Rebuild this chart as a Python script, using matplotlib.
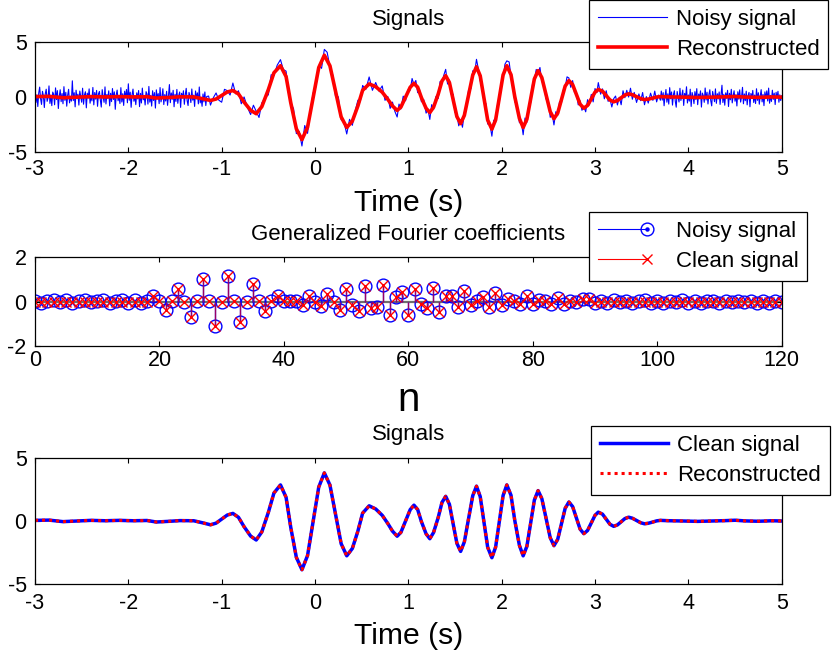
import numpy as np
import matplotlib
matplotlib.use("Agg")
import matplotlib.pyplot as plt
from matplotlib.lines import Line2D
from matplotlib.legend_handler import HandlerBase

plt.rcParams['font.family'] = ['Liberation Sans', 'DejaVu Sans']
plt.rcParams['axes.unicode_minus'] = False

# ---------------- data ----------------
# clean / reconstructed signal (time in s, amplitude)
clean_t = [-3.00, -2.85, -2.70, -2.55, -2.40, -2.25, -2.10, -1.95, -1.80, -1.70, -1.55, -1.45, -1.30, -1.20,
           -1.12, -1.06, -1.00, -0.94, -0.88, -0.82, -0.76, -0.69, -0.63, -0.57, -0.50, -0.44, -0.37, -0.31,
           -0.26, -0.20, -0.14, -0.08, -0.02, 0.04, 0.10, 0.16, 0.22, 0.28, 0.34, 0.40, 0.46, 0.51, 0.58,
           0.65, 0.72, 0.78, 0.83, 0.88, 0.92, 0.97, 1.02, 1.06, 1.10, 1.14, 1.19, 1.23, 1.27, 1.32, 1.36,
           1.40, 1.44, 1.48, 1.52, 1.56, 1.60, 1.645, 1.69, 1.73, 1.77, 1.81, 1.85, 1.895, 1.935, 1.975,
           2.015, 2.055, 2.10, 2.14, 2.19, 2.23, 2.27, 2.31, 2.35, 2.39, 2.43, 2.475, 2.52, 2.56, 2.60, 2.64,
           2.68, 2.72, 2.76, 2.80, 2.84, 2.88, 2.92, 2.96, 3.00, 3.035, 3.08, 3.12, 3.16, 3.20, 3.24, 3.28,
           3.32, 3.36, 3.40, 3.445, 3.49, 3.53, 3.57, 3.62, 3.66, 3.70, 3.80, 3.95, 4.10, 4.25, 4.40, 4.50,
           4.60, 4.75, 4.90, 5.00]
clean_v = [0.05, 0.07, -0.05, 0.00, 0.05, 0.02, 0.05, 0.02, 0.04, -0.08, -0.02, 0.03, 0.02, -0.15,
           -0.30, -0.17, 0.15, 0.47, 0.60, 0.29, -0.45, -1.19, -1.50, -0.86, 0.68, 2.21, 2.85, 1.87,
           -0.50, -2.87, -3.85, -2.73, -0.03, 2.68, 3.80, 2.84, 0.53, -1.79, -2.75, -2.17, -0.78, 0.62, 1.20,
           0.95, 0.45, -0.20, -0.80, -1.20, -0.90, 0.00, 0.90, 1.25, 0.90, -0.05, -1.01, -1.40, -0.91, 0.28, 1.46,
           1.95, 1.32, -0.23, -1.76, -2.40, -1.65, 0.18, 2.00, 2.75, 1.93, -0.08, -2.08, -2.90, -2.06, -0.03,
           2.01, 2.85, 2.03, 0.05, -1.93, -2.75, -2.00, -0.18, 1.65, 2.40, 1.77, 0.23, -1.32, -1.95, -1.45, -0.23,
           1.00, 1.50, 1.14, 0.25, -0.64, -1.00, -0.75, -0.15, 0.45, 0.70, 0.54, 0.14, -0.26, -0.42, -0.31, -0.06,
           0.19, 0.30, 0.22, 0.04, -0.14, -0.22, -0.18, -0.08, 0.01, 0.05, 0.02, 0.00, -0.03, 0.00, 0.03, 0.06,
           0.01, -0.02, 0.02, 0.00]
recon_v = list(clean_v)

# noisy signal: quiet lead-in (-3.00 .. -1.16 s, step 0.01)
noisy_lead = [0.62, -0.48, 0.21, -0.85, 0.37, 0.91, -0.15, -0.66, 0.53, 0.12,
              -0.94, 0.30, 0.72, -0.38, -0.05, 1.02, -0.57, 0.18, -0.77, 0.46,
              0.25, -0.69, 0.84, -0.22, 0.59, -1.03, 0.08, 0.67, -0.41, 0.33,
              -0.60, 0.95, -0.29, 0.44, -0.82, 0.17, 0.71, -0.52, 0.06, -0.36,
              1.48, -0.31, 0.40, -0.88, 0.63, -0.13, 0.27, -0.72, 0.55, 0.02,
              -0.46, 0.81, -0.64, 0.20, 0.49, -0.97, 0.36, -0.09, 0.75, -0.55,
              0.14, -0.34, 0.88, -0.70, 0.42, -0.18, 0.61, -0.83, 0.29, 0.52,
              -0.26, -0.90, 0.68, 0.03, -0.47, 0.93, -0.62, 0.24, -0.11, 0.57,
              -0.79, 0.35, -0.40, 0.78, -0.21, 0.48, -1.10, 0.19, 0.64, -0.33,
              0.10, -0.58, 0.86, -0.44, 0.31, -0.75, 0.54, -0.07, 0.69, -0.51,
              1.21, -0.28, 0.45, -0.92, 0.22, 0.73, -0.37, 0.13, -0.68, 0.39,
              -0.16, 0.60, -0.86, 0.34, -0.53, 0.82, -0.24, 0.07, -0.71, 0.50,
              0.28, -0.63, 0.97, -0.45, 0.16, -0.81, 0.58, -0.30, 0.41, -0.99,
              0.66, -0.12, 0.32, -0.59, 0.87, -0.43, 0.04, 0.76, -0.67, 0.23,
              -0.35, 0.53, -0.74, 0.11, 1.14, -0.50, 0.38, -0.20, 0.62, -0.87,
              0.26, -0.39, 0.70, -0.56, 0.15, 0.47, -0.93, 0.35, -0.08, 0.58,
              -0.65, 0.21, 0.80, -0.32, -0.76, 0.43, 0.09, -0.49, 0.74, -0.27,
              0.18, -0.84, 0.56, -0.14, 0.39, -0.61, 0.92, -0.52, -0.07, -0.83,
              0.29, -0.43, 0.47, -0.76, 0.06]
# noisy signal: active part
noisy_mid_t = [-1.14, -1.12, -1.09, -1.06, -1.03, -1.00, -0.97, -0.94, -0.91, -0.88, -0.85, -0.82, -0.79, -0.76,
               -0.725, -0.69, -0.66, -0.63, -0.60, -0.57, -0.535, -0.50, -0.47, -0.44, -0.405, -0.37, -0.34,
               -0.31, -0.285, -0.26, -0.23, -0.20, -0.17, -0.14, -0.11, -0.08, -0.05, -0.02, 0.01, 0.04, 0.07,
               0.10, 0.13, 0.16, 0.19, 0.22, 0.25, 0.28, 0.31, 0.34, 0.37, 0.40, 0.43, 0.46, 0.485, 0.51, 0.545,
               0.58, 0.615, 0.65, 0.685, 0.72, 0.75, 0.78, 0.805, 0.83, 0.855, 0.88, 0.90, 0.92, 0.945, 0.97,
               0.995, 1.02, 1.04, 1.06, 1.08, 1.10, 1.12, 1.14, 1.165, 1.19, 1.21, 1.23, 1.25, 1.27, 1.295, 1.32,
               1.34, 1.36, 1.38, 1.40, 1.42, 1.44, 1.46, 1.48, 1.50, 1.52, 1.54, 1.56, 1.58, 1.60, 1.62, 1.645,
               1.67, 1.69, 1.71, 1.73, 1.75, 1.77, 1.79, 1.81, 1.83, 1.85, 1.87, 1.895, 1.915, 1.935, 1.955,
               1.975, 1.995, 2.015, 2.035, 2.055, 2.08, 2.10, 2.12, 2.14, 2.165, 2.19, 2.21, 2.23, 2.25, 2.27,
               2.29, 2.31, 2.33, 2.35, 2.37, 2.39, 2.41, 2.43, 2.45, 2.475, 2.50, 2.52, 2.54, 2.56, 2.58, 2.60,
               2.62, 2.64, 2.66, 2.68, 2.70, 2.72, 2.74, 2.76, 2.78, 2.80, 2.82, 2.84, 2.86, 2.88, 2.90, 2.92,
               2.94, 2.96, 2.98, 3.00, 3.02, 3.035, 3.06, 3.08, 3.10, 3.12, 3.14, 3.16, 3.18, 3.20, 3.22, 3.24,
               3.26, 3.28, 3.30, 3.32, 3.34, 3.36, 3.38, 3.40, 3.42, 3.445, 3.47, 3.49, 3.51, 3.53, 3.55, 3.57,
               3.595, 3.62, 3.64, 3.66, 3.68, 3.70]
noisy_mid_v = [0.10, -0.72, -0.06, 0.38, -0.28, -0.46, 0.71, 0.59, 0.19, 1.28, 0.30, 0.58, -0.60, 0.02,
               -0.90, -1.58, -0.73, -1.29, -1.84, -0.53, -0.04, 0.21, 2.03, 1.99, 2.90, 3.40, 2.50,
               2.36, 0.39, -0.53, -1.05, -3.31, -3.10, -4.43, -2.57, -3.28, -1.29, 0.38, 0.96, 2.88, 2.61,
               4.33, 4.07, 2.73, 2.00, 0.05, 0.03, -2.04, -2.25, -3.34, -2.01, -2.55, -1.26, -0.27, -0.42, 1.06, 0.71,
               1.83, 0.62, 1.33, 0.55, 1.02, -0.29, 0.06, -1.02, -0.45, -1.28, -1.80, -0.63, -1.07, 0.09, -0.33,
               0.64, 0.64, 1.69, 1.13, 1.51, 0.40, 0.67, -0.42, -0.23, -1.45, -1.10, -2.02, -0.68, -1.12, 0.05, -0.12,
               1.42, 1.30, 2.00, 2.52, 1.19, 1.55, 0.24, 0.26, -1.38, -1.61, -2.60, -2.06, -2.73, -1.38, -0.93, 0.64,
               0.76, 2.39, 2.24, 3.43, 2.55, 1.46, 1.26, -0.37, -0.56, -2.44, -2.31, -3.54, -2.08, -2.28, -0.70,
               -0.44, 1.26, 1.71, 2.99, 3.29, 3.19, 1.85, 1.36, -0.42, -0.69, -2.32, -2.21, -3.41, -1.89, -2.28,
               -0.72, -0.52, 1.16, 1.50, 2.51, 2.17, 2.69, 1.41, 1.29, -0.17, -0.33, -1.83, -1.47, -2.52, -1.32, -1.65,
               -0.39, -0.54, 0.65, 0.88, 1.84, 1.74, 0.89, 1.50, 0.42, 0.44, -0.70, -0.33, -1.19, -0.86, -1.33, -0.23,
               -0.71, 0.25, -0.43, 0.78, 0.41, 1.32, 0.27, 0.75, -0.15, 0.58, -0.38, -0.17, -0.89, -0.14, 0.10, -0.71,
               -0.01, -0.69, 0.58, -0.05, 0.62, 0.01, 0.81, -0.19, 0.43, -0.48, 0.29, -0.32, 0.42, -0.69, 0.05, -0.54,
               0.36, -0.29, 0.55, -0.43, 0.19, -0.28]
# noisy signal: quiet tail (3.71 .. 5.00 s, step 0.01)
noisy_tail = [0.55, -0.27, 0.41, -0.78, 0.12, 0.69, -0.46, 0.30, -0.63, 0.86,
              -0.15, 0.47, -0.72, 0.23, 0.58, -0.38, -0.91, 0.51, 0.06, -0.44,
              0.80, -0.30, 0.17, 0.64, -0.75, 0.34, -0.12, 0.94, -0.53, 0.20,
              -0.36, 0.72, -0.84, 0.42, 0.08, -0.59, 0.50, -0.21, 0.77, -0.68,
              0.28, -0.04, 0.57, -0.90, 0.37, 0.14, -0.47, 0.83, -0.26, 0.45,
              -0.62, 0.24, 0.67, -0.33, -0.79, 0.52, 0.09, -0.41, 0.75, -0.56,
              0.31, -0.16, 0.47, -0.66, 0.18, 1.08, -0.49, 0.26, -0.73, 0.39,
              -0.10, 0.62, -0.85, 0.35, -0.24, 0.71, -0.52, 0.13, 0.58, -0.37,
              0.22, -0.80, 0.49, -0.18, 0.66, -0.45, 0.04, 0.89, -0.60, 0.29,
              -0.32, 0.54, -0.70, 0.15, 0.43, -0.87, 0.33, -0.07, 0.61, -0.48,
              0.19, -0.58, 0.76, -0.29, 0.40, -0.64, 0.11, 0.68, -0.43, 0.25,
              -0.77, 0.48, -0.14, 0.57, -0.35, 0.82, -0.55, 0.16, -0.39, 0.63,
              -0.20, 0.36, -0.67, 0.44, -0.09, 0.53, -0.46, 0.21, -0.31, 0.12]

# generalized Fourier coefficients, n = 0..120
coef_n = list(range(121))
coef_noisy = [0.02, -0.05, 0.04, 0.08, -0.03, 0.06, -0.06, 0.03, 0.07, -0.02,
              0.05, 0.09, -0.04, 0.03, 0.08, -0.05, 0.06, -0.08, 0.04, 0.24,
              0.05, -0.36, 0.05, 0.57, 0.00, -0.71, 0.02, 1.04, 0.01, -1.09,
              0.00, 1.15, 0.02, -0.94, 0.00, 0.81, 0.03, -0.44, 0.04, 0.25,
              0.05, 0.02, 0.03, -0.14, 0.25, -0.03, -0.21, 0.35, 0.00, -0.36,
              0.58, -0.14, -0.44, 0.70, -0.29, -0.26, 0.76, -0.60, 0.20, 0.45,
              -0.62, 0.58, -0.10, -0.29, 0.62, -0.46, 0.24, 0.24, -0.26, 0.50,
              -0.17, 0.05, 0.20, -0.26, 0.39, -0.14, 0.14, 0.02, -0.10, 0.24,
              -0.10, 0.09, 0.02, -0.10, 0.15, -0.10, 0.05, 0.00, 0.10, 0.12,
              -0.08, 0.04, -0.05, 0.06, -0.03, 0.05, -0.06, 0.02, 0.06, -0.04,
              0.03, -0.05, 0.05, -0.02, 0.06, -0.04, 0.03, -0.06, 0.04, 0.02,
              -0.05, 0.05, -0.03, 0.04, -0.02, 0.05, -0.05, 0.03, -0.04, 0.05,
              0.00]
coef_clean = [0.0] * 19 + coef_noisy[19:91] + [0.0] * 30

assert len(clean_t) == len(clean_v)
assert len(noisy_mid_t) == len(noisy_mid_v)

noisy_t = np.concatenate([np.linspace(-3.0, -1.16, len(noisy_lead)), noisy_mid_t,
                          np.linspace(3.71, 5.0, len(noisy_tail))])
noisy_v = np.concatenate([noisy_lead, noisy_mid_v, noisy_tail])

BLUE = (0, 0, 1)
RED = (1, 0, 0)
TICK_FS = 15.5
LEG_FS = 16


class EndMarkerHandler(HandlerBase):
    def __init__(self, color, lw, ls='-', marker=None, ms=0, dot=False):
        super().__init__()
        self.color, self.lw, self.ls = color, lw, ls
        self.marker, self.ms, self.dot = marker, ms, dot

    def create_artists(self, legend, orig_handle, xdescent, ydescent, width, height, fontsize, trans):
        y = (height - ydescent) / 2.0
        x0 = -xdescent
        x1 = width - xdescent
        arts = []
        if self.marker is None:
            ln = Line2D([x0, x1], [y, y], color=self.color, lw=self.lw, ls=self.ls)
            arts.append(ln)
        else:
            xm = x1 - 0.28 * width
            ln = Line2D([x0, xm], [y, y], color=self.color, lw=self.lw)
            mk = Line2D([xm], [y], marker=self.marker, ms=self.ms, mfc='none',
                        mec=self.color, mew=1.0, ls='none')
            arts += [ln, mk]
            if self.dot:
                dt = Line2D([xm], [y], marker='o', ms=2.2, mfc=self.color, mec=self.color, ls='none')
                arts.append(dt)
        for a in arts:
            a.set_transform(trans)
        return arts


def style_axes(ax, xpad, ypad=6):
    ax.tick_params(direction='in', length=3.6, width=0.8, top=True, right=True,
                   labelsize=TICK_FS)
    ax.tick_params(axis='x', pad=xpad)
    ax.tick_params(axis='y', pad=ypad)
    for s in ax.spines.values():
        s.set_linewidth(0.9)


def add_legend(fig, handles, labels, x, y, handlers):
    leg = fig.legend(handles, labels, loc='upper left', bbox_to_anchor=(x, y),
                     bbox_transform=fig.transFigure, fontsize=LEG_FS, frameon=True,
                     fancybox=False, framealpha=1, edgecolor='black', borderpad=0.4,
                     labelspacing=0.42, handlelength=3.1, handletextpad=0.4,
                     borderaxespad=0, handler_map=handlers)
    leg.get_frame().set_linewidth(0.9)
    return leg


fig = plt.figure(figsize=(8.33, 6.53), dpi=100)
W, H = 833.0, 653.0
L, R = 35.0, 781.7

# ---------------- top panel ----------------
ax1 = fig.add_axes([L / W, 1 - 152.3 / H, (R - L) / W, (152.3 - 42.0) / H])
h_noisy, = ax1.plot(noisy_t, noisy_v, color=BLUE, lw=0.8)
h_rec, = ax1.plot(clean_t, recon_v, color=RED, lw=2.6)
ax1.set_xlim(-3, 5)
ax1.set_ylim(-5, 5)
ax1.set_xticks(range(-3, 6))
ax1.set_yticks([-5, 0, 5])
style_axes(ax1, xpad=5)
ax1.set_title('Signals', fontsize=16, pad=12)
ax1.set_xlabel('Time (s)', fontsize=21.7, labelpad=6)

# ---------------- middle panel ----------------
ax2 = fig.add_axes([L / W, 1 - 346.0 / H, (R - L) / W, (346.0 - 257.3) / H])
ax2.axhline(0, color='#6e6e6e', lw=1.6, zorder=1)
m1, s1, b1 = ax2.stem(coef_n, coef_noisy, linefmt='-', markerfmt='o', basefmt=' ')
s1.set_color(BLUE)
s1.set_linewidth(1.0)
m1.set_markerfacecolor('none')
m1.set_markeredgecolor(BLUE)
m1.set_markersize(9.2)
m1.set_markeredgewidth(1.0)
m2, s2, b2 = ax2.stem(coef_n, coef_clean, linefmt='-', markerfmt='x', basefmt=' ')
s2.set_color(RED)
s2.set_alpha(0.6)
s2.set_linewidth(1.0)
m2.set_color(RED)
m2.set_markersize(7)
m2.set_markeredgewidth(1.0)
ax2.set_xlim(0, 120)
ax2.set_ylim(-2, 2)
ax2.set_xticks(range(0, 121, 20))
ax2.set_yticks([-2, 0, 2])
style_axes(ax2, xpad=3)
ax2.set_title('Generalized Fourier coefficients', fontsize=16, pad=12.5)
ax2.set_xlabel('n', fontsize=29, labelpad=7)

# ---------------- bottom panel ----------------
ax3 = fig.add_axes([L / W, 1 - 584.3 / H, (R - L) / W, (584.3 - 457.7) / H])
h_clean, = ax3.plot(clean_t, clean_v, color=BLUE, lw=2.5)
h_rec2, = ax3.plot(clean_t, recon_v, color=RED, lw=2.2, ls=(0, (1, 1.3)))
ax3.set_xlim(-3, 5)
ax3.set_ylim(-5, 5)
ax3.set_xticks(range(-3, 6))
ax3.set_yticks([-5, 0, 5])
style_axes(ax3, xpad=6.5)
ax3.set_title('Signals', fontsize=16, pad=12.4)
ax3.set_xlabel('Time (s)', fontsize=21.7, labelpad=5.5)

# ---------------- legends ----------------
add_legend(fig, [h_noisy, h_rec], ['Noisy signal', 'Reconstructed'], 589 / W, 1.0,
           {h_noisy: EndMarkerHandler(BLUE, 0.8), h_rec: EndMarkerHandler(RED, 2.6)})
add_legend(fig, [m1, m2], ['Noisy signal', 'Clean signal'], 589 / W, 1 - 211.7 / H,
           {m1: EndMarkerHandler(BLUE, 0.8, marker='o', ms=9.2, dot=True),
            m2: EndMarkerHandler(RED, 0.8, marker='x', ms=7)})
add_legend(fig, [h_clean, h_rec2], ['Clean signal', 'Reconstructed'], 590.7 / W, 1 - 425.7 / H,
           {h_clean: EndMarkerHandler(BLUE, 2.5),
            h_rec2: EndMarkerHandler(RED, 2.2, ls=(0, (1, 1.3)))})

fig.savefig('out.png', dpi=100)
